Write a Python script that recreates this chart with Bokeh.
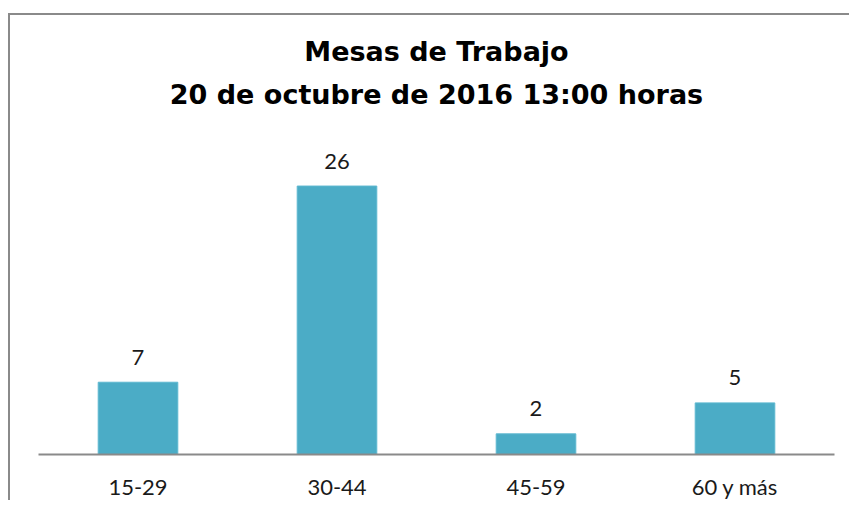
from bokeh.plotting import figure
from bokeh.models import FactorRange, Range1d, Title, ColumnDataSource
from bokeh.core.properties import value
from bokeh.embed import file_html
from bokeh.resources import INLINE

categories = ["15-29", "30-44", "45-59", "60 y más"]
counts = [7, 26, 2, 5]
title_line1 = "Mesas de Trabajo"
title_line2 = "20 de octubre de 2016 13:00 horas"

source = ColumnDataSource(data=dict(cat=categories, val=counts, lbl=[str(v) for v in counts]))

p = figure(
    x_range=FactorRange(*categories, range_padding=0),
    y_range=Range1d(0, 32.93),
    width=841, height=487,
    output_backend="svg", toolbar_location=None,
    min_border_left=28, min_border_right=17,
    min_border_top=99, min_border_bottom=46,
    styles={"border-left": "2px solid #8a8a8a", "border-top": "2px solid #8a8a8a",
            "margin-top": "13px", "margin-left": "8px"},
)
p.outline_line_color = None
p.xgrid.visible = False
p.ygrid.visible = False
p.yaxis.visible = False

p.vbar(x="cat", top="val", width=0.4, source=source,
       fill_color="#4BACC6", line_color="#5DB8D0", line_width=1)

p.text(x="cat", y="val", text="lbl", source=source,
       text_align="center", text_baseline="middle", y_offset=-25,
       text_font=value("Lato"), text_font_size="22px", text_color="#1a1a1a")

ax = p.xaxis[0]
ax.axis_line_color = "#8a8a8a"
ax.axis_line_width = 2
ax.major_tick_line_color = None
ax.minor_tick_line_color = None
ax.major_label_text_font = "Lato"
ax.major_label_text_font_size = "22px"
ax.major_label_text_color = "#1a1a1a"
ax.major_label_standoff = 12

p.add_layout(Title(text=title_line2, align="center", text_font="DejaVu Sans",
                   text_font_size="27px", text_font_style="bold", text_color="#000000"), "above")
p.add_layout(Title(text=title_line1, align="center", text_font="DejaVu Sans",
                   text_font_size="27px", text_font_style="bold", text_color="#000000"), "above")

open("out.html", "w").write(file_html(p, INLINE))
